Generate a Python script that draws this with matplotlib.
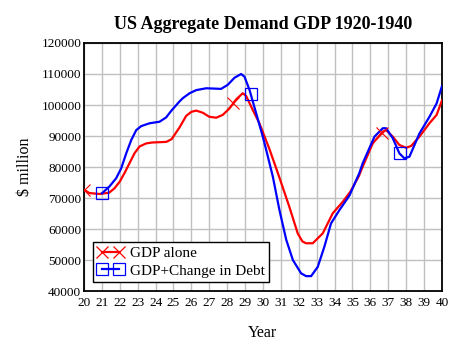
import numpy as np
import matplotlib
matplotlib.use("Agg")
import matplotlib.pyplot as plt
from matplotlib.lines import Line2D

plt.rcParams['font.family'] = ['Liberation Serif', 'DejaVu Serif']

# GDP alone (red)
red_year = [20.0, 20.3, 20.87, 21.4, 21.7, 22.0, 22.26, 22.54, 22.82, 23.1, 23.47, 23.8,
            24.2, 24.6, 24.9, 25.34, 25.71, 26.0, 26.27, 26.64, 27.0, 27.39, 27.75, 28.13,
            28.5, 28.87, 29.06, 29.43, 29.8, 30.36, 30.9, 31.47, 31.94, 32.2, 32.41, 32.78,
            33.34, 33.9, 34.46, 34.9, 35.35, 35.57, 36.13, 36.69, 36.88, 37.25, 37.62, 38.0,
            38.28, 38.74, 39.3, 39.7, 40.0]
red_gdp = [72700, 71600, 71300, 71700, 73100, 75300, 78000, 81200, 84400, 86600, 87600, 87900,
           88000, 88100, 89000, 92800, 96500, 97800, 98200, 97500, 96200, 95900, 96800, 98900,
           101800, 103800, 102900, 98400, 94100, 85800, 76900, 67200, 58600, 56000, 55400, 55400,
           58600, 65100, 68800, 72200, 77000, 80100, 87600, 91400, 91900, 89800, 87100, 86200,
           86800, 89800, 94100, 96800, 101500]

# GDP + change in debt (blue)
blue_year = [21.0, 21.42, 21.8, 22.08, 22.36, 22.64, 22.92, 23.2, 23.66, 24.22, 24.59, 24.9,
             25.33, 25.52, 25.9, 26.27, 26.83, 27.66, 28.03, 28.41, 28.78, 28.97, 29.25, 29.62,
             29.99, 30.18, 30.55, 30.92, 31.3, 31.67, 32.13, 32.41, 32.69, 33.06, 33.43, 33.8,
             34.27, 34.83, 35.38, 35.57, 36.23, 36.69, 36.88, 37.25, 37.62, 37.9, 38.18, 38.74,
             39.3, 39.7, 40.0]
blue_gdp = [71500, 73700, 76400, 79600, 84400, 88700, 91900, 93200, 94100, 94600, 96000, 98300,
            101100, 102200, 103800, 104800, 105400, 105200, 106500, 108800, 110000, 109100, 104800, 97300,
            89800, 85500, 76900, 66100, 56500, 50000, 45700, 44800, 44800, 47800, 54300, 61800,
            66100, 70800, 78000, 81200, 89800, 92500, 92500, 89300, 84400, 82800, 83300, 90800,
            96200, 100500, 106100]

red_mark_year = [20.0, 28.33, 36.67]
red_mark_gdp = [72700, 100500, 91000]
blue_mark_year = [21.0, 29.33, 37.67]
blue_mark_gdp = [71500, 103700, 84400]

xticks = list(range(20, 41))
yticks = list(range(40000, 120001, 10000))

fig = plt.figure(figsize=(4.63, 3.51), dpi=100)
ax = fig.add_axes([0.1814, 0.1709, 0.7732, 0.7066])

ax.plot(red_year, red_gdp, color='red', lw=1.6, zorder=3)
ax.plot(blue_year, blue_gdp, color='blue', lw=1.6, zorder=3)
ax.plot(red_mark_year, red_mark_gdp, ls='none', marker='x', ms=8, mew=0.8, color='red', zorder=4)
ax.plot(blue_mark_year, blue_mark_gdp, ls='none', marker='s', ms=8, mew=0.9, mfc='none', color='blue', zorder=4)

ax.set_xlim(20, 40)
ax.set_ylim(40000, 120000)
ax.set_xticks(xticks)
ax.set_yticks(yticks)
ax.grid(True, color='#c0c0c0', lw=1)
ax.set_axisbelow(True)
ax.tick_params(length=0, labelsize=9.5)
ax.tick_params(axis='y', pad=2)
ax.tick_params(axis='x', pad=4)
for s in ax.spines.values():
    s.set_linewidth(1.3)
    s.set_color('black')

ax.set_title('US Aggregate Demand GDP 1920-1940', fontsize=13, fontweight='bold', pad=10)
ax.set_xlabel('Year', fontsize=11.5, labelpad=12)
ax.set_ylabel('$ million', fontsize=11.5, labelpad=6)

handles = [Line2D([], [], color='red', lw=1.6, marker='x', ms=8, mew=0.9),
           Line2D([], [], color='blue', lw=1.6, marker='s', ms=8, mew=0.9, mfc='none')]
leg = ax.legend(handles, ['GDP alone', 'GDP+Change in Debt'], loc='lower left',
                bbox_to_anchor=(0.025, 0.036), borderaxespad=0, numpoints=2,
                fancybox=False, framealpha=1, edgecolor='black', fontsize=11,
                handlelength=1.7, handletextpad=0.4, borderpad=0.3, labelspacing=0.25)
leg.get_frame().set_linewidth(1.0)

fig.savefig('out.png', dpi=100)
